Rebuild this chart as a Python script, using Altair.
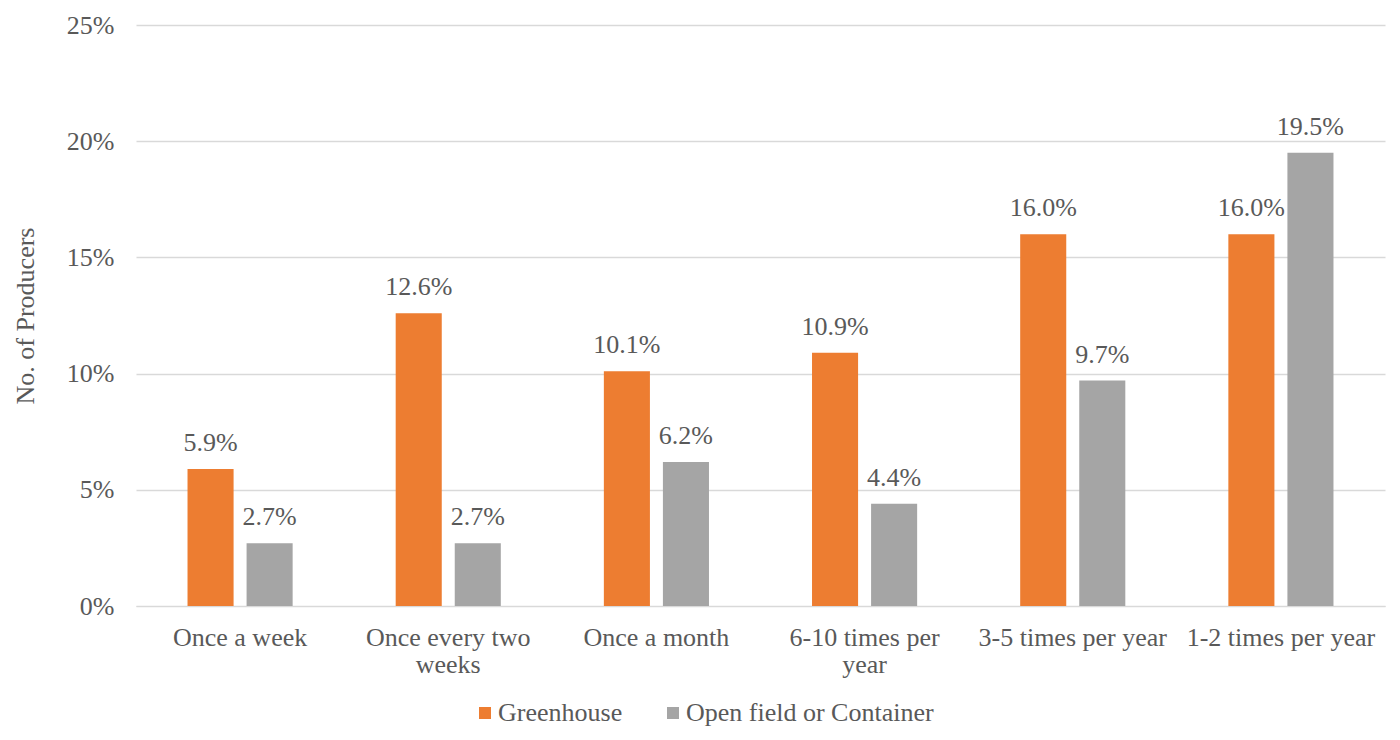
import altair as alt
import pandas as pd

categories = ["Once a week", "Once every two weeks", "Once a month",
              "6-10 times per year", "3-5 times per year", "1-2 times per year"]
greenhouse = [5.9, 12.6, 10.1, 10.9, 16.0, 16.0]
open_field = [2.7, 2.7, 6.2, 4.4, 9.7, 19.5]
series = ["Greenhouse", "Open field or Container"]
colors = ["#ED7D31", "#A5A5A5"]

rows = []
for c, g, o in zip(categories, greenhouse, open_field):
    rows.append({"cat": c, "series": series[0], "val": g / 100})
    rows.append({"cat": c, "series": series[1], "val": o / 100})
df = pd.DataFrame(rows)

FONT = "'Times New Roman', 'Liberation Serif', serif"
TXT = "#595959"
FS = 26

label_expr = ("datum.value == 'Once every two weeks' ? ['Once every two', 'weeks'] : "
              "datum.value == '6-10 times per year' ? ['6-10 times per', 'year'] : datum.value")

x = alt.X("cat:N", sort=categories, title=None,
          scale=alt.Scale(paddingInner=0.495, paddingOuter=0.2475),
          axis=alt.Axis(labelAngle=0, labelFont=FONT, labelFontSize=FS, labelColor=TXT,
                        labelPadding=18, labelLineHeight=27, ticks=False, domain=True,
                        domainColor="#D9D9D9", labelExpr=label_expr, labelLimit=400,
                        labelOverlap=False))
xo = alt.XOffset("series:N", sort=series, scale=alt.Scale(paddingInner=0.22))
y = alt.Y("val:Q", title="No. of Producers",
          scale=alt.Scale(domain=[0, 0.25], nice=False),
          axis=alt.Axis(format=".0%", values=[0, 0.05, 0.10, 0.15, 0.20, 0.25],
                        labelFont=FONT, labelFontSize=FS, labelColor=TXT, labelPadding=22,
                        ticks=False, domain=False, gridColor="#D9D9D9", gridWidth=1.5,
                        titleFont=FONT, titleFontSize=26, titleColor=TXT,
                        titleFontWeight="normal", titlePadding=28))
color = alt.Color("series:N", sort=series, title=None,
                  scale=alt.Scale(domain=series, range=colors),
                  legend=alt.Legend(orient="none", legendX=336, legendY=675,
                                    direction="horizontal", symbolType="square",
                                    symbolSize=144, symbolStrokeWidth=0, labelLimit=400,
                                    labelFont=FONT, labelFontSize=FS, labelColor=TXT,
                                    labelOffset=0, columnPadding=37))

base = alt.Chart(df).encode(x=x, xOffset=xo, y=y)
bars = base.mark_bar().encode(color=color)
labels = base.mark_text(font=FONT, fontSize=FS, color=TXT, baseline="alphabetic",
                        dy=-18).encode(text=alt.Text("val:Q", format=".1%"))

chart = (bars + labels).properties(
    width=1249, height=581,
    autosize=alt.AutoSizeParams(type="none"),
    padding={"left": 136, "top": 25, "right": 15, "bottom": 134},
    background="white",
).configure(font=FONT).configure_view(stroke=None)

chart.save("out.html", embed_options={"renderer": "svg", "actions": False})
